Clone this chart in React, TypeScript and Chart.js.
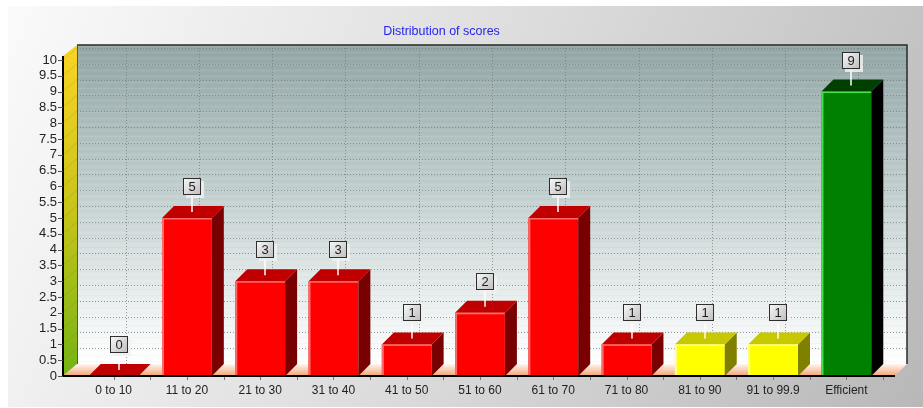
import { useEffect, useRef } from "react";
import { Chart, registerables } from "chart.js";

Chart.register(...registerables);

const categories = [
  "0 to 10", "11 to 20", "21 to 30", "31 to 40", "41 to 50", "51 to 60",
  "61 to 70", "71 to 80", "81 to 90", "91 to 99.9", "Efficient",
];
const counts = [0, 5, 3, 3, 1, 2, 5, 1, 1, 1, 9];
const barTones = ["red", "red", "red", "red", "red", "red", "red", "red", "yellow", "yellow", "green"];
const yMin = 0;
const yMax = 10;
const yStep = 0.5;
const chartTitle = "Distribution of scores";

const palette: Record<string, { front: string; top: string; side: string; hi: string }> = {
  red: { front: "#ff0000", top: "#c00000", side: "#780000", hi: "#ff6a6a" },
  yellow: { front: "#ffff00", top: "#c8c800", side: "#808000", hi: "#ffff90" },
  green: { front: "#008000", top: "#003f00", side: "#000000", hi: "#48e048" },
};

const FONT = "Liberation Sans, Arial, Helvetica, sans-serif";
const BDX = 12; // bar depth x
const BDY = 12; // bar depth y
const WDX = 14; // wall depth x

const scenePlugin = {
  id: "scene3d",
  beforeDraw(chart: any) {
    const { ctx, chartArea, scales } = chart;
    const xs = scales.x;
    const ys = scales.y;
    const W = chart.width;
    const H = chart.height;
    ctx.save();
    ctx.fillStyle = "#ffffff";
    ctx.fillRect(0, 0, W, H);
    // panel
    const pg = ctx.createLinearGradient(0, 0, W, H);
    pg.addColorStop(0, "#fbfbfb");
    pg.addColorStop(0.5, "#dcdcdc");
    pg.addColorStop(1, "#b8b8b8");
    ctx.fillStyle = pg;
    ctx.fillRect(8, 6, W - 8, H - 7);

    const L = chartArea.left;
    const R = chartArea.right;
    const B = chartArea.bottom;
    const fx = L - WDX; // front x of left wall (axis)
    const bwTop = chartArea.top - 15;
    const bwBottom = B - BDY;
    const bwRight = R + 24;

    // back wall
    const bg = ctx.createLinearGradient(0, bwTop, 0, bwBottom);
    bg.addColorStop(0, "#93a7a7");
    bg.addColorStop(0.45, "#c2cfcf");
    bg.addColorStop(0.85, "#eff3f3");
    bg.addColorStop(1, "#ffffff");
    ctx.fillStyle = bg;
    ctx.fillRect(L, bwTop, bwRight - L, bwBottom - bwTop);
    // stripes
    for (let y = bwTop + 1; y < bwBottom; y += 3) {
      ctx.fillStyle = (Math.floor(y) % 2 === 0) ? "rgba(255,255,255,0.09)" : "rgba(0,0,0,0.02)";
      ctx.fillRect(L, y, bwRight - L, 1);
    }

    // grid on back wall
    ctx.strokeStyle = "rgba(120,120,120,0.75)";
    ctx.lineWidth = 1;
    ctx.setLineDash([1, 2]);
    for (let v = yMin; v <= yMax + 1e-9; v += yStep) {
      const py = Math.round(ys.getPixelForValue(v) - BDY) + 0.5;
      if (py <= bwTop + 1 || py >= bwBottom) continue;
      ctx.beginPath();
      ctx.moveTo(L, py);
      ctx.lineTo(bwRight, py);
      ctx.stroke();
    }
    for (let i = 0; i < categories.length; i++) {
      const px = Math.round(xs.getPixelForValue(i) + BDX) + 0.5;
      ctx.beginPath();
      ctx.moveTo(px, bwTop);
      ctx.lineTo(px, bwBottom);
      ctx.stroke();
    }
    ctx.setLineDash([]);

    // back wall border
    ctx.strokeStyle = "#2a2a2a";
    ctx.lineWidth = 1.5;
    ctx.beginPath();
    ctx.moveTo(L, bwTop);
    ctx.lineTo(bwRight, bwTop);
    ctx.lineTo(bwRight, bwBottom);
    ctx.stroke();
    ctx.strokeStyle = "#555";
    ctx.lineWidth = 1;
    ctx.beginPath();
    ctx.moveTo(L + 0.5, bwTop);
    ctx.lineTo(L + 0.5, bwBottom);
    ctx.stroke();

    // left wall
    const wallFrontTop = chartArea.top - 4;
    const lg = ctx.createLinearGradient(0, bwTop, 0, B);
    lg.addColorStop(0, "#fad424");
    lg.addColorStop(0.5, "#c8c41a");
    lg.addColorStop(1, "#74b414");
    ctx.fillStyle = lg;
    ctx.beginPath();
    ctx.moveTo(fx, wallFrontTop);
    ctx.lineTo(L, bwTop);
    ctx.lineTo(L, bwBottom);
    ctx.lineTo(fx, B);
    ctx.closePath();
    ctx.fill();
    // wall tick diagonals
    ctx.strokeStyle = "rgba(90,90,60,0.5)";
    ctx.lineWidth = 0.8;
    ctx.setLineDash([1, 1.5]);
    for (let v = yMin; v <= yMax + 1e-9; v += yStep) {
      const py = ys.getPixelForValue(v);
      ctx.beginPath();
      ctx.moveTo(fx, py);
      ctx.lineTo(L, py - BDY);
      ctx.stroke();
    }
    ctx.setLineDash([]);

    // floor
    const fg = ctx.createLinearGradient(0, bwBottom, 0, B);
    fg.addColorStop(0, "#fff6f0");
    fg.addColorStop(1, "#f2a476");
    ctx.fillStyle = fg;
    ctx.beginPath();
    ctx.moveTo(fx, B);
    ctx.lineTo(L, bwBottom);
    ctx.lineTo(bwRight, bwBottom);
    ctx.lineTo(R + BDX, B);
    ctx.closePath();
    ctx.fill();
    ctx.restore();
  },
  afterDatasetsDraw(chart: any) {
    const { ctx, chartArea, scales } = chart;
    const xs = scales.x;
    const ys = scales.y;
    const meta = chart.getDatasetMeta(0);
    const L = chartArea.left;
    const R = chartArea.right;
    const B = chartArea.bottom;
    const fx = L - WDX;
    ctx.save();

    meta.data.forEach((el: any, i: number) => {
      const p = palette[barTones[i]];
      const w = el.width;
      const x0 = el.x - w / 2;
      const x1 = el.x + w / 2;
      const yT = el.y;
      const base = el.base;
      // side face
      if (base - yT > 0.5) {
        ctx.fillStyle = p.side;
        ctx.beginPath();
        ctx.moveTo(x1, yT);
        ctx.lineTo(x1 + BDX, yT - BDY);
        ctx.lineTo(x1 + BDX, base - BDY);
        ctx.lineTo(x1, base);
        ctx.closePath();
        ctx.fill();
      }
      // top face
      ctx.fillStyle = p.top;
      ctx.beginPath();
      ctx.moveTo(x0, yT);
      ctx.lineTo(x0 + BDX, yT - BDY);
      ctx.lineTo(x1 + BDX, yT - BDY);
      ctx.lineTo(x1, yT);
      ctx.closePath();
      ctx.fill();
      // front highlight
      if (base - yT > 2) {
        ctx.fillStyle = p.hi;
        ctx.fillRect(x0, yT, 2, base - yT);
        ctx.fillRect(x0, yT, w, 1.5);
      }
    });

    // axes
    ctx.fillStyle = "#000";
    ctx.fillRect(fx - 1, chartArea.top - 4, 2, B - chartArea.top + 5);
    ctx.fillRect(fx - 1, B - 1, R + BDX - fx + 1, 2);
    // y ticks
    ctx.strokeStyle = "#555";
    ctx.lineWidth = 1;
    for (let v = yMin; v <= yMax + 1e-9; v += yStep) {
      const py = Math.round(ys.getPixelForValue(v)) + 0.5;
      ctx.beginPath();
      ctx.moveTo(fx - 5, py);
      ctx.lineTo(fx, py);
      ctx.stroke();
    }
    // x minor ticks
    const cw = (R - L) / categories.length;
    ctx.strokeStyle = "#777";
    for (let i = 0; i < categories.length; i++) {
      const c = xs.getPixelForValue(i);
      for (const px of [c, c + cw / 2]) {
        const rx = Math.round(px) + 0.5;
        ctx.beginPath();
        ctx.moveTo(rx, B + 1);
        ctx.lineTo(rx, B + 4);
        ctx.stroke();
      }
    }

    // value labels
    meta.data.forEach((el: any, i: number) => {
      const yT = el.y;
      const cx = Math.round(el.x + 5);
      const bh = 17;
      const bw = 18;
      const bottom = Math.round(yT - 23);
      const top = bottom - bh;
      const left = cx - Math.floor(bw / 2);
      // leader line
      ctx.strokeStyle = "#ffffff";
      ctx.lineWidth = 1.5;
      ctx.beginPath();
      ctx.moveTo(cx, bottom);
      ctx.lineTo(cx, yT - BDY / 2);
      ctx.stroke();
      // shadow
      ctx.fillStyle = "rgba(240,240,240,0.85)";
      ctx.fillRect(left + 3, top + 3, bw, bh);
      // box
      const g = ctx.createLinearGradient(left, top, left + bw, top + bh);
      g.addColorStop(0, "#fafafa");
      g.addColorStop(1, "#bcbcbc");
      ctx.fillStyle = g;
      ctx.fillRect(left, top, bw, bh);
      ctx.strokeStyle = "#2e2e2e";
      ctx.lineWidth = 1;
      ctx.strokeRect(left + 0.5, top + 0.5, bw - 1, bh - 1);
      ctx.fillStyle = "#1e1e1e";
      ctx.font = `13px ${FONT}`;
      ctx.textAlign = "center";
      ctx.textBaseline = "middle";
      ctx.fillText(String(counts[i]), left + bw / 2, top + bh / 2 + 1);
    });
    ctx.restore();
  },
};

export default function App() {
  const ref = useRef<HTMLCanvasElement>(null);
  useEffect(() => {
    document.body.style.margin = "0";
    const chart = new Chart(ref.current as HTMLCanvasElement, {
      type: "bar",
      data: {
        labels: categories,
        datasets: [
          {
            data: counts,
            backgroundColor: barTones.map((t) => palette[t].front),
            borderWidth: 0,
            barPercentage: 0.68,
            categoryPercentage: 1,
          },
        ],
      },
      options: {
        animation: false,
        responsive: false,
        devicePixelRatio: 1,
        layout: { padding: { left: 0, right: 40, top: 0, bottom: 0 } },
        plugins: {
          legend: { display: false },
          tooltip: { enabled: false },
          title: {
            display: true,
            text: chartTitle,
            color: "#2424ee",
            font: { family: FONT, size: 12.5, weight: "normal" },
            padding: { top: 24, bottom: 21 },
          },
        },
        scales: {
          x: {
            grid: { display: false, drawTicks: false },
            border: { display: false },
            ticks: { color: "#222", font: { family: FONT, size: 12 }, padding: 7, maxRotation: 0, autoSkip: false },
            afterFit: (s: any) => { s.height = 32; },
          },
          y: {
            min: yMin,
            max: yMax,
            grid: { display: false, drawTicks: false },
            border: { display: false },
            ticks: {
              stepSize: yStep,
              maxTicksLimit: 50,
              autoSkip: false,
              color: "#222",
              font: { family: FONT, size: 13 },
              padding: 20,
              callback: (v: any) => String(Number(v)),
            },
            afterFit: (s: any) => { s.width = 77; },
          },
        },
      } as any,
      plugins: [scenePlugin],
    });
    return () => chart.destroy();
  }, []);
  return (
    <div style={{ width: 923, height: 408 }}>
      <canvas ref={ref} width={923} height={408} style={{ display: "block" }} />
    </div>
  );
}
